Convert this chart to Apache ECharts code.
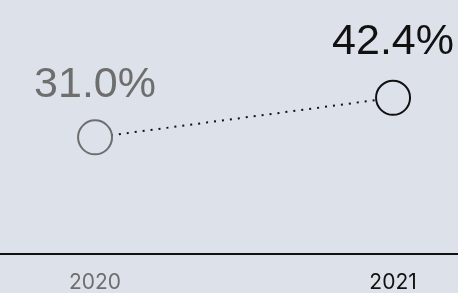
<!DOCTYPE html>
<html>
<head>
<meta charset="utf-8">
<script src="https://cdn.jsdelivr.net/npm/echarts@6/dist/echarts.min.js"></script>
<style>
  html, body { margin: 0; padding: 0; background: #dce1ea; }
  #chart { width: 458px; height: 293px; }
</style>
</head>
<body>
<div id="chart"></div>
<script>
// data
var years = [2020, 2021];
var shares = [31.0, 42.4];
var pointColors = ['#6e6e6e', '#111111'];

var chart = echarts.init(document.getElementById('chart'));

var seriesData = years.map(function (y, i) {
  return {
    value: [y, shares[i]],
    itemStyle: { borderColor: pointColors[i] },
    label: { color: pointColors[i], distance: i === 0 ? 13 : 16 }
  };
});

chart.setOption({
  backgroundColor: '#dce1ea',
  animation: false,
  grid: { left: 0, right: 0, top: 0, bottom: 36 },
  xAxis: {
    type: 'value',
    min: 2019.681,
    max: 2021.218,
    splitLine: { show: false },
    axisLine: { show: true, onZero: false, lineStyle: { color: '#111', width: 2 } },
    axisTick: { show: false },
    axisLabel: {
      customValues: years,
      margin: 18,
      fontSize: 21,
      fontFamily: 'Inter',
      formatter: function (v) { return String(v); },
      color: function (v) { return pointColors[years.indexOf(Math.round(v))] || '#111'; }
    }
  },
  yAxis: {
    type: 'value',
    min: -2.63,
    max: 70.6,
    show: false
  },
  series: [{
    type: 'line',
    data: seriesData,
    symbol: 'circle',
    symbolSize: 34,
    itemStyle: { color: '#dce1ea', borderWidth: 2 },
    lineStyle: { color: '#111', width: 2, type: [2, 6] },
    label: {
      show: true,
      position: 'top',
      fontSize: 43,
      fontFamily: 'Liberation Sans',
      formatter: function (p) { return p.value[1].toFixed(1) + '%'; }
    }
  }]
});
</script>
</body>
</html>
